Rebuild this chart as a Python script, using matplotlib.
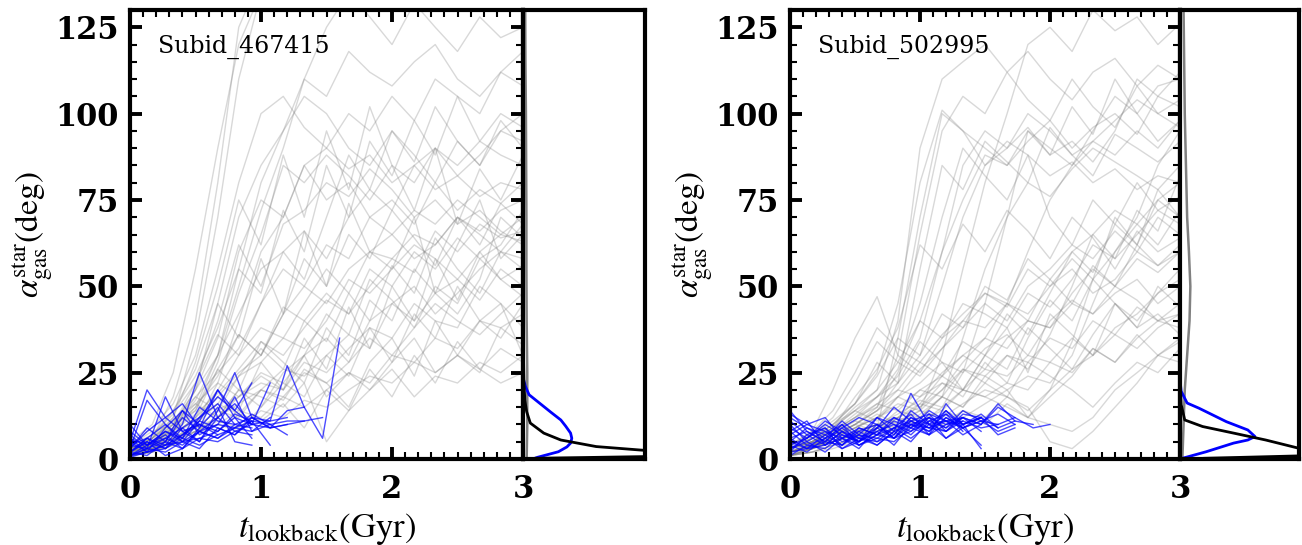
import numpy as np
import matplotlib
matplotlib.use("Agg")
import matplotlib.pyplot as plt
from matplotlib.ticker import MultipleLocator

plt.rcParams["font.family"] = "DejaVu Serif"
plt.rcParams["mathtext.fontset"] = "stix"

# ---------- data ----------
GRAY_T = [0.0, 0.17, 0.33, 0.5, 0.67, 0.83, 1.0, 1.17, 1.33, 1.5,
          1.67, 1.83, 2.0, 2.17, 2.33, 2.5, 2.67, 2.83, 3.0]
BLUE_T = [0.0, 0.13, 0.27, 0.4, 0.53, 0.67, 0.8, 0.93, 1.07, 1.2,
          1.33, 1.47, 1.6, 1.73, 1.87, 2.0]

GRAY_A = [
    [2, 4, 8, 15, 30, 55, 80, 95, 105, 100, 90, 85, 95, 88, 80, 92, 85, 95, 100],
    [1, 3, 5, 10, 22, 40, 60, 70, 85, 75, 80, 70, 65, 72, 68, 75, 70, 65, 70],
    [3, 6, 12, 35, 70, 110, 135, 140, 130, 135, 140, 138, 132, 140, 135, 130, 138, 135, 140],
    [2, 5, 7, 12, 18, 25, 30, 42, 50, 45, 55, 60, 58, 65, 62, 70, 66, 72, 75],
    [1, 2, 4, 8, 12, 20, 15, 25, 30, 35, 28, 40, 45, 50, 42, 48, 55, 60, 58],
    [4, 8, 10, 20, 35, 60, 75, 70, 85, 90, 100, 95, 105, 98, 110, 105, 100, 112, 118],
    [2, 3, 6, 9, 14, 18, 22, 20, 28, 25, 32, 38, 35, 45, 40, 38, 50, 45, 30],
    [1, 4, 9, 18, 25, 32, 45, 55, 50, 62, 58, 70, 75, 68, 80, 72, 78, 74, 80],
    [3, 5, 8, 14, 28, 48, 65, 85, 80, 88, 82, 75, 85, 80, 90, 85, 92, 88, 85],
    [2, 6, 11, 16, 22, 18, 25, 22, 30, 18, 25, 20, 28, 35, 25, 30, 40, 35, 45],
    [1, 3, 7, 12, 20, 30, 38, 35, 45, 55, 48, 60, 65, 58, 62, 70, 65, 60, 68],
    [2, 4, 6, 8, 10, 14, 12, 18, 15, 20, 25, 22, 30, 28, 35, 32, 40, 38, 42],
    [5, 10, 25, 55, 90, 120, 135, 130, 138, 132, 140, 135, 138, 130, 135, 140, 132, 135, 130],
    [3, 7, 13, 22, 40, 62, 50, 68, 72, 80, 76, 84, 78, 70, 75, 68, 72, 66, 62],
    [1, 2, 5, 10, 16, 24, 28, 35, 32, 40, 52, 48, 55, 62, 58, 52, 60, 65, 63],
    [2, 4, 9, 16, 12, 20, 18, 15, 22, 5, 14, 20, 26, 18, 24, 22, 28, 25, 30],
    [3, 6, 14, 26, 45, 70, 85, 95, 110, 105, 118, 112, 108, 115, 120, 110, 105, 112, 108],
    [1, 5, 10, 14, 26, 36, 30, 44, 40, 48, 42, 55, 50, 60, 55, 64, 58, 62, 72],
    [2, 4, 7, 11, 16, 13, 20, 26, 24, 30, 36, 32, 45, 40, 48, 52, 46, 55, 50],
    [4, 9, 16, 30, 55, 80, 100, 105, 96, 90, 84, 88, 80, 85, 78, 82, 76, 80, 78],
    [1, 3, 6, 9, 12, 16, 20, 18, 25, 22, 28, 35, 30, 38, 45, 40, 36, 42, 48],
    [2, 5, 8, 13, 19, 26, 34, 30, 38, 46, 42, 50, 58, 54, 66, 60, 68, 64, 66],
    [3, 6, 10, 20, 30, 42, 55, 60, 66, 58, 70, 78, 72, 85, 90, 82, 88, 95, 92],
    [1, 3, 5, 8, 11, 9, 14, 12, 17, 15, 20, 24, 22, 28, 25, 30, 26, 32, 28],
    [2, 5, 12, 28, 50, 75, 62, 88, 70, 95, 78, 102, 85, 72, 90, 68, 84, 75, 88],
    [1, 3, 8, 20, 45, 35, 58, 42, 66, 50, 74, 60, 55, 70, 48, 62, 75, 58, 65],
    [3, 4, 6, 10, 18, 14, 28, 20, 35, 26, 44, 32, 50, 40, 58, 46, 60, 52, 56],
    [2, 6, 18, 40, 80, 125, 140, 135, 140, 138, 135, 140, 136, 132, 140, 138, 135, 140, 138],
    [1, 2, 4, 7, 10, 8, 15, 22, 18, 30, 24, 38, 28, 42, 35, 50, 40, 45, 38],
    [4, 7, 14, 24, 38, 55, 48, 72, 60, 85, 70, 92, 82, 98, 88, 105, 92, 100, 96],
    [2, 3, 5, 9, 14, 12, 20, 17, 26, 22, 15, 28, 35, 24, 40, 30, 25, 38, 33],
    [1, 4, 7, 12, 26, 20, 34, 28, 22, 38, 30, 46, 40, 55, 48, 42, 52, 70, 64],
    [3, 5, 9, 15, 24, 36, 30, 42, 58, 50, 65, 58, 72, 64, 56, 70, 62, 74, 68],
    [2, 4, 10, 22, 36, 30, 45, 60, 52, 70, 88, 78, 95, 86, 102, 92, 85, 98, 90],
    [1, 3, 6, 10, 8, 13, 11, 16, 9, 20, 14, 26, 18, 30, 22, 34, 26, 22, 25],
    [2, 5, 9, 17, 30, 50, 72, 90, 110, 125, 135, 128, 120, 132, 125, 118, 128, 122, 125],
    [3, 6, 11, 18, 14, 24, 32, 26, 40, 34, 48, 40, 56, 48, 64, 55, 48, 60, 55],
    [1, 2, 5, 8, 12, 18, 24, 20, 30, 42, 36, 52, 46, 38, 50, 45, 58, 52, 47],
]

GRAY_B = [
    [3, 5, 8, 12, 15, 25, 40, 60, 75, 88, 85, 95, 90, 85, 92, 88, 95, 90, 98],
    [2, 4, 6, 8, 10, 12, 18, 25, 30, 35, 32, 40, 38, 45, 42, 50, 46, 40, 42],
    [4, 8, 20, 35, 47, 30, 25, 35, 40, 38, 45, 42, 50, 55, 48, 52, 60, 56, 62],
    [2, 3, 5, 7, 9, 35, 70, 100, 95, 90, 85, 92, 98, 90, 96, 100, 94, 105, 102],
    [1, 3, 6, 9, 12, 15, 20, 18, 26, 24, 30, 28, 35, 32, 40, 36, 44, 40, 38],
    [3, 6, 10, 14, 18, 22, 30, 50, 70, 85, 90, 96, 88, 92, 86, 95, 110, 105, 112],
    [2, 4, 7, 10, 8, 12, 16, 14, 20, 18, 15, 12, 10, 8, 12, 20, 25, 30, 28],
    [1, 2, 4, 6, 8, 10, 14, 30, 55, 80, 100, 120, 125, 118, 130, 124, 128, 120, 126],
    [3, 5, 9, 15, 20, 28, 24, 32, 38, 45, 40, 50, 55, 62, 58, 66, 60, 70, 65],
    [2, 4, 5, 8, 10, 9, 12, 10, 14, 12, 18, 15, 5, 3, 8, 15, 22, 30, 35],
    [4, 7, 12, 22, 34, 28, 40, 35, 45, 42, 38, 48, 44, 52, 62, 58, 65, 72, 68],
    [1, 3, 5, 7, 9, 12, 15, 20, 28, 35, 45, 60, 75, 85, 95, 105, 100, 108, 110],
    [3, 6, 10, 16, 25, 45, 80, 101, 95, 85, 92, 88, 82, 86, 80, 84, 78, 82, 80],
    [2, 4, 6, 9, 12, 18, 22, 28, 25, 32, 36, 30, 40, 46, 42, 48, 52, 45, 50],
    [1, 2, 3, 5, 7, 9, 11, 14, 12, 16, 20, 24, 22, 30, 45, 60, 70, 85, 95],
    [3, 5, 8, 12, 16, 20, 18, 22, 20, 26, 24, 30, 28, 25, 32, 28, 35, 40, 45],
    [2, 5, 9, 14, 20, 40, 90, 110, 115, 120, 112, 118, 110, 104, 112, 116, 108, 114, 110],
    [1, 3, 6, 10, 14, 18, 26, 32, 40, 48, 44, 55, 50, 58, 52, 60, 68, 62, 72],
    [2, 4, 7, 11, 16, 14, 20, 24, 30, 26, 35, 40, 38, 48, 55, 50, 58, 54, 60],
    [4, 8, 14, 25, 38, 32, 28, 36, 42, 48, 45, 40, 52, 60, 65, 72, 68, 75, 80],
    [1, 2, 4, 6, 8, 11, 14, 12, 16, 20, 18, 14, 20, 26, 30, 36, 32, 38, 42],
    [3, 5, 8, 13, 18, 24, 35, 60, 85, 95, 90, 100, 95, 88, 92, 98, 104, 100, 96],
    [2, 4, 5, 7, 6, 9, 12, 18, 35, 55, 70, 80, 76, 84, 90, 86, 82, 78, 85],
    [1, 3, 5, 8, 10, 13, 17, 15, 20, 18, 22, 20, 28, 35, 30, 38, 42, 48, 52],
    [2, 4, 7, 10, 14, 22, 55, 85, 78, 92, 86, 80, 96, 88, 82, 94, 90, 86, 92],
    [3, 6, 10, 16, 28, 22, 34, 28, 20, 30, 38, 25, 42, 36, 30, 45, 38, 42, 36],
    [1, 3, 5, 8, 7, 12, 10, 15, 25, 45, 70, 95, 88, 102, 94, 110, 100, 92, 98],
    [2, 5, 8, 12, 18, 26, 45, 70, 90, 82, 75, 88, 70, 62, 75, 68, 80, 72, 76],
    [4, 6, 9, 14, 11, 18, 15, 22, 18, 28, 22, 35, 46, 40, 52, 45, 38, 50, 44],
    [1, 2, 4, 6, 9, 7, 11, 9, 14, 10, 16, 12, 20, 34, 52, 70, 62, 78, 70],
    [3, 5, 9, 18, 26, 38, 62, 55, 68, 60, 72, 66, 58, 70, 64, 55, 66, 60, 64],
    [2, 3, 6, 9, 13, 10, 16, 24, 20, 30, 26, 38, 32, 26, 36, 45, 40, 48, 55],
    [1, 4, 7, 10, 15, 30, 65, 95, 105, 100, 112, 104, 98, 110, 102, 96, 108, 100, 104],
    [3, 5, 8, 11, 9, 14, 12, 18, 15, 24, 20, 12, 18, 24, 32, 28, 36, 30, 34],
    [2, 4, 6, 10, 14, 20, 28, 24, 34, 30, 42, 36, 48, 60, 54, 68, 62, 75, 70],
    [1, 3, 5, 7, 10, 8, 13, 18, 15, 22, 30, 26, 36, 50, 65, 58, 72, 66, 82],
    [4, 7, 11, 16, 24, 35, 30, 42, 38, 50, 46, 58, 52, 45, 56, 50, 62, 56, 60],
    [2, 4, 7, 9, 12, 16, 14, 20, 26, 22, 18, 28, 24, 20, 15, 22, 28, 25, 32],
]

BLUE_A = [
    [5, 20, 12, 8, 10],
    [2, 6, 4, 10, 25, 12],
    [8, 4, 6, 9, 12, 18, 14, 22],
    [3, 17, 10, 6, 12, 16, 10],
    [1, 2, 4, 5, 8, 10, 9, 11, 10],
    [4, 3, 18, 8, 5, 14, 25, 12, 11, 27, 15, 6, 35],
    [2, 5, 3, 7, 11, 20, 12, 6],
    [6, 2, 9, 14, 7, 10, 18, 8, 12],
    [1, 3, 2, 5, 6, 8, 12, 10, 11, 12],
    [10, 4, 7, 3, 9, 15, 5, 4],
    [3, 8, 12, 16, 9, 20, 14, 10, 9, 10, 11],
    [2, 1, 5, 3, 8, 6, 9, 13, 10, 11, 11, 12],
    [4, 6, 3, 9, 5, 12, 8, 10],
    [1, 4, 8, 6, 15, 11, 10, 12, 9, 14, 15],
    [7, 3, 5, 12, 8, 6, 10, 9],
    [2, 6, 10, 5, 3, 9, 7, 11, 4],
    [5, 2, 4, 7, 10, 8, 13, 11],
    [0.5, 2, 3, 6, 4, 7, 9, 8, 10, 7],
    [3, 9, 5, 14, 10, 7],
    [1, 3, 6, 4, 8, 12, 16, 10, 22],
    [6, 4, 8, 5, 11, 9, 7, 12, 9, 10],
    [2, 5, 1, 3, 6, 5, 8, 7],
]

BLUE_B = [
    [14, 8, 5, 10, 4, 7, 6, 10, 8, 12, 9, 11, 10, 12, 9, 10],
    [3, 6, 9, 5, 7, 12, 8, 19, 10, 14, 9, 12],
    [8, 11, 4, 6, 3, 9, 15, 11, 13, 8, 12, 10, 16, 11],
    [5, 3, 7, 10, 6, 5, 9, 13, 7, 16, 10, 12, 7, 9],
    [10, 5, 8, 4, 9, 7, 12, 9, 14, 11, 10, 3],
    [2, 7, 4, 8, 5, 10, 6, 11, 9, 13, 8],
    [12, 9, 6, 11, 7, 4, 8, 10, 12, 9, 14, 11, 13, 10],
    [4, 2, 6, 3, 5, 8, 10, 7, 12, 6, 10, 13, 9],
    [7, 10, 12, 6, 8, 5, 7, 14, 10, 11, 7, 10, 15, 12],
    [1, 4, 3, 7, 5, 9, 6, 8, 11, 13, 10, 12],
    [9, 6, 11, 8, 4, 6, 5, 9, 7, 10, 12, 8],
    [3, 5, 2, 6, 4, 7, 9, 6, 10, 8, 11, 9, 10],
    [6, 8, 5, 9, 12, 10, 7, 12, 10, 6, 9],
    [11, 7, 9, 3, 6, 4, 8, 5, 11, 9, 12, 10],
    [2, 3, 5, 4, 7, 6, 9, 11, 8, 14, 10, 12, 9, 11, 10],
    [8, 4, 6, 9, 5, 12, 10, 8, 13, 11, 9, 4],
    [5, 9, 7, 4, 8, 10, 6, 12, 9, 8, 13, 12],
    [13, 10, 8, 6, 9, 7, 11, 9, 12, 10, 11],
    [4, 6, 10, 7, 5, 8, 4, 10, 7, 12, 9, 11, 8, 10],
    [6, 3, 4, 8, 6, 9, 12, 10, 9, 11, 12],
]

# side-panel distributions (x = fraction of side panel width, y = angle)
KDE_BLUE_A_Y = [0, 0.5, 2.1, 3.5, 4.6, 6.0, 7.5, 9.5, 11.3, 13.5, 15.2, 18.6, 21, 23, 26]
KDE_BLUE_A_X = [0.08, 0.12, 0.29, 0.36, 0.39, 0.40, 0.39, 0.35, 0.31, 0.23, 0.17, 0.05, 0.02, 0.005, 0.0]
KDE_BLACK_A_Y = [0, 0.2, 0.7, 1.2, 1.8, 2.6, 3.6, 5.5, 7.5, 10.4, 13.7, 17, 22, 30]
KDE_BLACK_A_X = [0.05, 0.1, 1.0, 1.4, 1.3, 0.96, 0.6, 0.31, 0.17, 0.06, 0.03, 0.015, 0.008, 0.004]
KDE_GRAY_A_Y = [0, 10, 25, 40, 55, 70, 85, 100, 115, 130]
KDE_GRAY_A_X = [0.03, 0.035, 0.035, 0.03, 0.028, 0.028, 0.026, 0.024, 0.02, 0.018]

KDE_BLUE_B_Y = [0, 0.2, 2.1, 4.6, 5.5, 6.5, 8.4, 10.8, 14.7, 16.2, 19.6, 23]
KDE_BLUE_B_X = [0.01, 0.02, 0.22, 0.45, 0.57, 0.63, 0.57, 0.39, 0.16, 0.06, 0.01, 0.0]
KDE_BLACK_B_Y = [0, 0.2, 0.9, 1.5, 2.2, 3.1, 5.5, 7.5, 9.4, 11.3, 15.7, 20, 25]
KDE_BLACK_B_X = [0.1, 0.2, 1.0, 1.4, 1.3, 1.0, 0.72, 0.45, 0.19, 0.04, 0.01, 0.005, 0.003]
KDE_GRAY_B_Y = [0, 10, 20, 30, 40, 50, 60, 70, 85, 100, 115, 130]
KDE_GRAY_B_X = [0.02, 0.03, 0.04, 0.06, 0.08, 0.087, 0.075, 0.06, 0.05, 0.04, 0.035, 0.03]

LABELS = ["Subid_467415", "Subid_502995"]

W, H = 1302, 545


def style_main(ax):
    ax.set_xlim(0, 3)
    ax.set_ylim(0, 130)
    ax.xaxis.set_major_locator(MultipleLocator(1))
    ax.xaxis.set_minor_locator(MultipleLocator(0.1))
    ax.yaxis.set_major_locator(MultipleLocator(25))
    ax.yaxis.set_minor_locator(MultipleLocator(5))
    ax.tick_params(which="both", direction="in", top=True, right=True)
    ax.tick_params(which="major", length=8.5, width=2.8, labelsize=22)
    ax.tick_params(which="minor", length=5, width=1.5)
    ax.tick_params(axis="x", which="major", pad=11)
    ax.tick_params(axis="y", which="major", pad=8)
    for lab in ax.get_xticklabels() + ax.get_yticklabels():
        lab.set_fontweight("bold")
    for sp in ax.spines.values():
        sp.set_linewidth(3.0)
    ax.set_xlabel(r"$t_{\rm lookback}({\rm Gyr})$", fontsize=25, labelpad=4)
    ax.set_ylabel(r"$\alpha_{\rm gas}^{\rm star}({\rm deg})$", fontsize=24, labelpad=0)


def draw_panel(fig, x0, wm, ws, gray, blue, kde, label):
    bottom, height = 86 / H, 449 / H
    ax = fig.add_axes([x0 / W, bottom, wm / W, height])
    side = fig.add_axes([(x0 + wm) / W, bottom, ws / W, height])

    for g in gray:
        ax.plot(GRAY_T[:len(g)], g, color="gray", alpha=0.3, lw=1.0, zorder=1)
    for b in blue:
        ax.plot(BLUE_T[:len(b)], b, color="blue", alpha=0.7, lw=1.0, zorder=2)
    ax.text(0.072, 0.918, label, transform=ax.transAxes, fontsize=17, va="center")
    style_main(ax)

    (gy, gx), (by, bx), (ky, kx) = kde
    side.plot(gx, gy, color="gray", lw=1.8)
    side.plot(bx, by, color="blue", lw=2.0)
    side.plot(kx, ky, color="black", lw=2.0)
    side.set_xlim(0, 1)
    side.set_ylim(0, 130)
    side.set_xticks([])
    side.set_yticks([])
    for sp in side.spines.values():
        sp.set_linewidth(3.0)
    return ax, side


fig = plt.figure(figsize=(W / 100, H / 100), dpi=100)
draw_panel(fig, 130, 393, 122, GRAY_A, BLUE_A,
           ((KDE_GRAY_A_Y, KDE_GRAY_A_X), (KDE_BLUE_A_Y, KDE_BLUE_A_X),
            (KDE_BLACK_A_Y, KDE_BLACK_A_X)), LABELS[0])
draw_panel(fig, 790, 390, 119, GRAY_B, BLUE_B,
           ((KDE_GRAY_B_Y, KDE_GRAY_B_X), (KDE_BLUE_B_Y, KDE_BLUE_B_X),
            (KDE_BLACK_B_Y, KDE_BLACK_B_X)), LABELS[1])

fig.savefig("out.png", dpi=100)
